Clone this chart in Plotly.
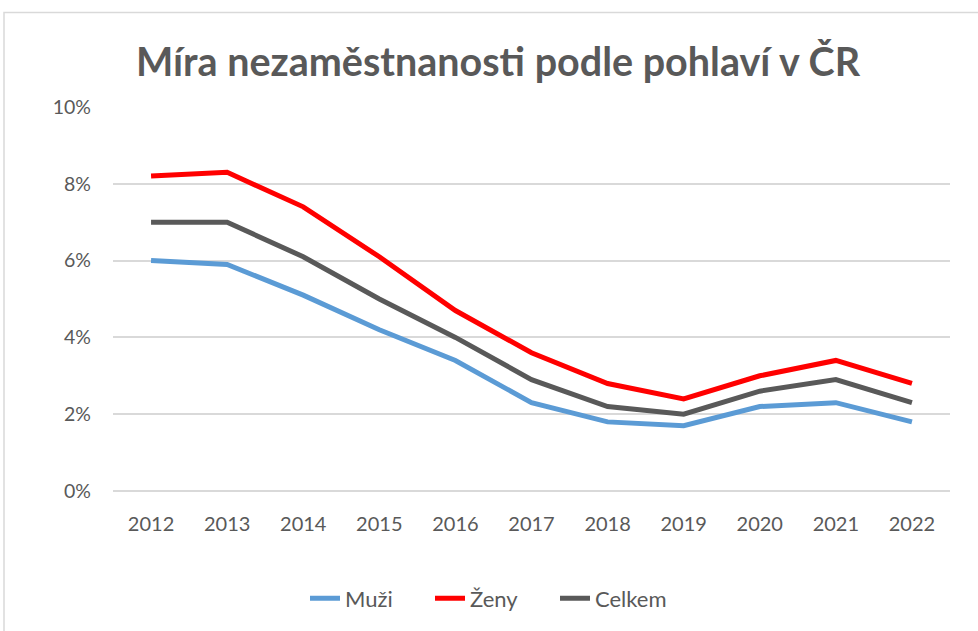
import plotly.graph_objects as go

years = ["2012", "2013", "2014", "2015", "2016", "2017", "2018", "2019", "2020", "2021", "2022"]
muzi = [6.0, 5.9, 5.1, 4.2, 3.4, 2.3, 1.8, 1.7, 2.2, 2.3, 1.8]
zeny = [8.2, 8.3, 7.4, 6.1, 4.7, 3.6, 2.8, 2.4, 3.0, 3.4, 2.8]
celkem = [7.0, 7.0, 6.1, 5.0, 4.0, 2.9, 2.2, 2.0, 2.6, 2.9, 2.3]
yticks = [0, 2, 4, 6, 8, 10]
ytick_labels = ["0%", "2%", "4%", "6%", "8%", "10%"]

series = [("Muži", muzi, "#5B9BD5"), ("Ženy", zeny, "#FF0000"), ("Celkem", celkem, "#595959")]

fig = go.Figure()
for name, vals, col in series:
    fig.add_trace(go.Scatter(x=years, y=vals, name=name, mode="lines",
                             line=dict(color=col, width=5)))

FONT = "Lato, Open Sans, sans-serif"
W, H = 978, 631
L, R, T, B = 113, 28, 107, 138
PW, PH = W - L - R, H - T - B
fig.update_layout(
    width=W, height=H,
    margin=dict(l=L, r=R, t=T, b=B),
    paper_bgcolor="white", plot_bgcolor="white",
    title=dict(text="<b>Míra nezaměstnanosti podle pohlaví v ČR</b>",
               x=498 / W, xanchor="center", y=1 - 62 / H, yanchor="middle",
               font=dict(family=FONT, size=39.5, color="#595959")),
    xaxis=dict(type="category", showgrid=False, showline=False, zeroline=False,
               ticks="", ticklabelstandoff=19,
               tickfont=dict(family=FONT, size=20, color="#595959"),
               range=[-0.5, 10.5]),
    yaxis=dict(range=[0, 10], tickvals=yticks, ticktext=ytick_labels,
               showgrid=True, gridcolor="#D9D9D9", gridwidth=1.5,
               zeroline=True, zerolinecolor="#D9D9D9", zerolinewidth=1.5,
               showline=False, ticks="", ticklen=0, ticklabelstandoff=21,
               tickfont=dict(family=FONT, size=19.5, color="#595959")),
    legend=dict(orientation="h", x=(305 - L) / PW, xanchor="left",
                y=(T + PH - 601) / PH, yanchor="middle",
                font=dict(family=FONT, size=22, color="#595959"),
                itemwidth=30, tracegroupgap=0,
                entrywidth=80, entrywidthmode="pixels"),
    shapes=[dict(type="rect", xref="paper", yref="paper",
                 x0=(4 - L) / PW, x1=(W + 10 - L) / PW,
                 y0=(T + PH - H - 10) / PH, y1=(T + PH - 12) / PH,
                 line=dict(color="#D9D9D9", width=1.5), fillcolor="rgba(0,0,0,0)",
                 layer="below")],
)

fig.write_html("out.html", config={"displayModeBar": False},
               post_script="document.body.style.margin='0';document.body.style.overflow='hidden';")
